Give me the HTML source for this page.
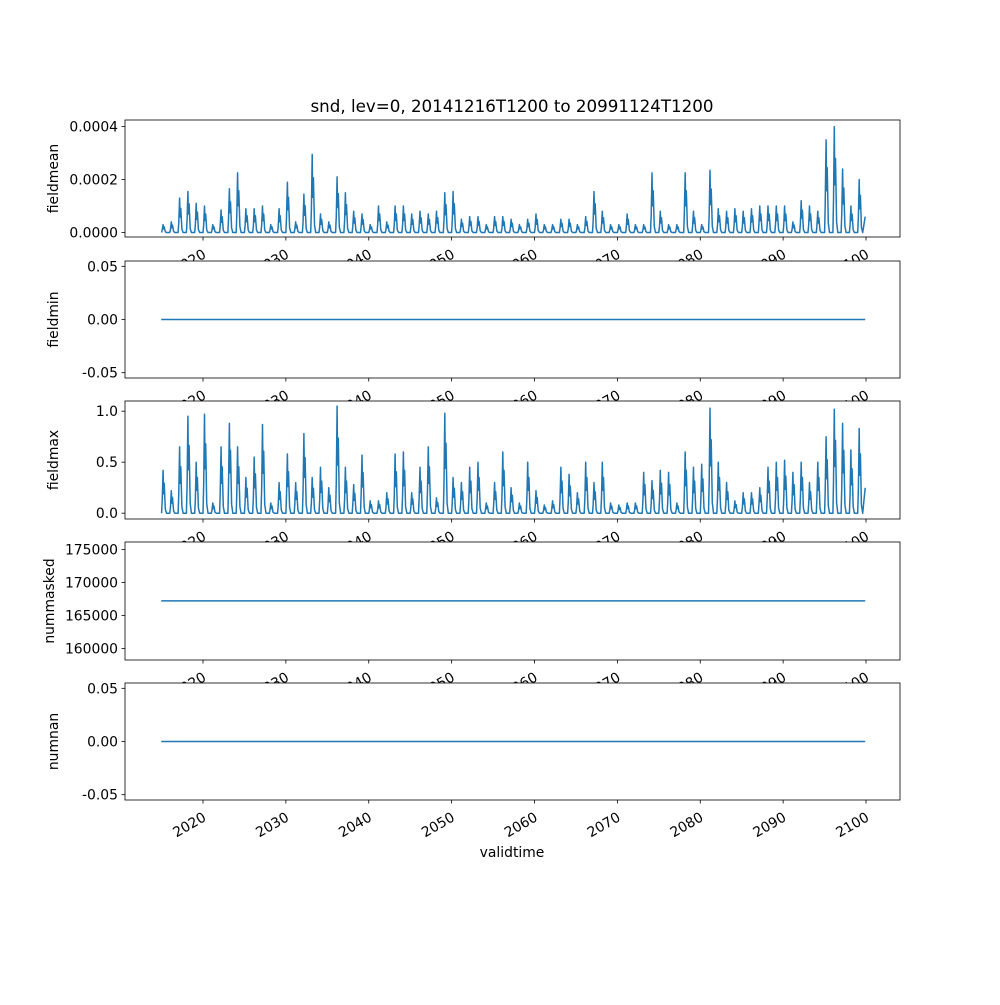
<!DOCTYPE html>
<html><head><meta charset="utf-8"><style>
body{margin:0;background:#fff}
svg text{font-family:"DejaVu Sans","Liberation Sans",sans-serif;fill:#000}
</style></head><body>
<svg id="fig" width="1000" height="1000" xmlns="http://www.w3.org/2000/svg"></svg>
<script>
const years=[];for(let y=2015;y<=2099;y++)years.push(y);
const meanPeaks=[0.00003,0.00004,0.00013,0.000155,0.00011,0.0001,0.00003,0.000085,0.000165,0.000225,0.00009,0.00009,0.0001,0.00003,0.00009,0.00019,0.00004,0.000145,0.000295,0.00007,0.00004,0.00021,0.00015,0.00008,0.00007,0.00003,0.0001,0.00004,0.0001,0.0001,0.00007,0.00008,0.00007,0.00008,0.00015,0.000155,0.00005,0.00006,0.00006,0.00003,0.00006,0.00006,0.00005,0.00003,0.00005,0.00007,0.00003,0.00003,0.00005,0.00005,0.00003,0.00006,0.000155,0.00008,0.00003,0.00003,0.00007,0.00003,0.00003,0.000225,0.00008,0.00003,0.00003,0.000225,0.00008,0.00003,0.000235,0.00009,0.00008,0.00009,0.00008,0.00009,0.0001,0.0001,0.0001,0.0001,0.00004,0.00012,0.0001,0.00008,0.00035,0.0004,0.00024,0.0001,0.0002];
const maxPeaks=[0.42,0.22,0.65,0.95,0.5,0.97,0.1,0.65,0.88,0.65,0.35,0.55,0.87,0.1,0.3,0.58,0.3,0.78,0.35,0.45,0.25,1.05,0.45,0.28,0.57,0.12,0.12,0.2,0.58,0.6,0.2,0.45,0.65,0.15,0.98,0.35,0.3,0.45,0.5,0.1,0.3,0.6,0.25,0.1,0.5,0.22,0.08,0.12,0.45,0.38,0.2,0.5,0.3,0.5,0.1,0.08,0.1,0.1,0.4,0.32,0.42,0.4,0.1,0.6,0.45,0.48,1.03,0.5,0.3,0.12,0.2,0.2,0.25,0.45,0.5,0.52,0.4,0.5,0.3,0.5,0.75,1.02,0.88,0.62,0.83];
const minValue=0, nanValue=0, maskedValue=167200;
const xTicks=[2020,2030,2040,2050,2060,2070,2080,2090,2100];
const shape=[[0,0],[0.08,0.3],[0.18,1],[0.24,0.45],[0.32,0.7],[0.45,0.1],[0.6,0]];
const svg=document.getElementById('fig');const NS='http://www.w3.org/2000/svg';
function el(t,a,p){const e=document.createElementNS(NS,t);for(const k in a)e.setAttribute(k,a[k]);(p||svg).appendChild(e);return e;}
const L=125,R=900;
const X=t=>203+(t-2020)*8.2875;
const axesDefs=[
 {top:120,bot:237,name:'fieldmean',ymin:-0.000017,ymax:0.000425,ticks:[0,0.0002,0.0004],fmt:v=>v.toFixed(4)},
 {top:261,bot:378,name:'fieldmin',ymin:-0.055,ymax:0.055,ticks:[-0.05,0,0.05],fmt:v=>v.toFixed(2)},
 {top:401,bot:519,name:'fieldmax',ymin:-0.057,ymax:1.1,ticks:[0,0.5,1],fmt:v=>v.toFixed(1)},
 {top:542,bot:660,name:'nummasked',ymin:158250,ymax:176130,ticks:[160000,165000,170000,175000],fmt:v=>String(v)},
 {top:683,bot:800,name:'numnan',ymin:-0.055,ymax:0.055,ticks:[-0.05,0,0.05],fmt:v=>v.toFixed(2)}];
el('text',{x:512,y:112,'text-anchor':'middle','font-size':'16.7',}).textContent='snd, lev=0, 20141216T1200 to 20991124T1200';
axesDefs.forEach((a,i)=>{
 const g=el('g',{});
 
 
 const Y=v=>a.bot-(v-a.ymin)/(a.ymax-a.ymin)*(a.bot-a.top);
 el('rect',{x:L,y:a.top,width:R-L,height:a.bot-a.top,fill:'#fff'},g);
 let pts=[];
 if(i===0||i===2){const pk=i===0?meanPeaks:maxPeaks;
  years.forEach((y,k)=>shape.forEach(s=>pts.push([X(y+s[0]),Y(pk[k]*s[1])])));
  pts.push([X(2099.9),Y(pk[pk.length-1]*0.3)]);
 }else{const v=i===1?minValue:i===3?maskedValue:nanValue;pts=[[X(2014.96),Y(v)],[X(2099.9),Y(v)]];}
 const ln=el('polyline',{points:pts.map(p=>p.map(n=>n.toFixed(1)).join(',')).join(' '),fill:'none',stroke:'#1f77b4','stroke-width':1.5,'stroke-linejoin':'round'},g);
 
 
 el('rect',{x:L,y:a.top,width:R-L,height:a.bot-a.top,fill:'none',stroke:'#000','stroke-width':0.8},g);
 a.ticks.forEach(v=>{const y=Y(v);el('line',{x1:L-3.5,x2:L,y1:y,y2:y,stroke:'#000','stroke-width':0.8},g);
  const t=el('text',{x:L-7,y:y+5,'text-anchor':'end','font-size':'13.9'},g);t.textContent=a.fmt(v);
  });
 const yl=el('text',{x:0,y:0,transform:`translate(${i===3?54:58},${(a.top+a.bot)/2}) rotate(-90)`,'text-anchor':'middle','font-size':'13.9'},g);
 yl.textContent=a.name;
 xTicks.forEach(t=>{const x=X(t);el('line',{x1:x,x2:x,y1:a.bot,y2:a.bot+3.5,stroke:'#000','stroke-width':0.8},g);
  const tx=x+4,ty=a.bot+20;
  const lb=el('text',{x:tx,y:ty,transform:`rotate(-30 ${tx} ${ty})`,'text-anchor':'end','font-size':'13.9'},g);
  lb.textContent=t;});
});
el('text',{x:512,y:857,'text-anchor':'middle','font-size':'13.9',}).textContent='validtime';
</script>
</body></html>
